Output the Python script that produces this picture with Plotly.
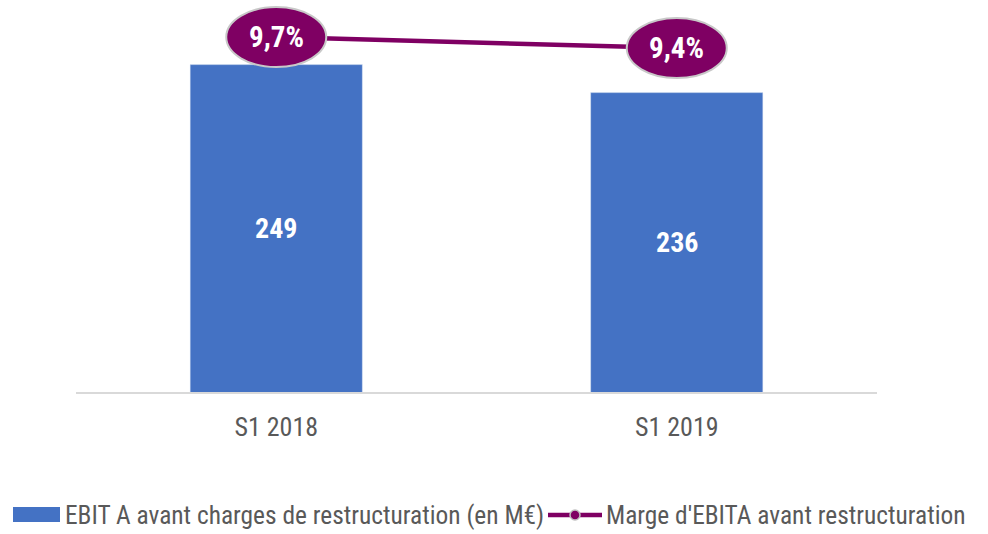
import plotly.graph_objects as go

categories = ["S1 2018", "S1 2019"]
ebita = [249, 236]
marge = [9.7, 9.4]
bar_name = "EBIT A avant charges de restructuration (en M€)"
line_name = "Marge d'EBITA avant restructuration"

BLUE = "#4472C4"
PURPLE = "#7F0063"
GREY_TXT = "#595959"
FONT = "Roboto Condensed, Liberation Sans Narrow, Arial Narrow, sans-serif"

Y_MIN, Y_MAX = 97, 279
Y2_MIN, Y2_MAX = 0.03, 10.71

# plot-area geometry in pixels (used for the hand-built legend)
W, H = 988, 534
ML, MR, MT, MB = 76, 111, 0, 142
PW, PH = W - ML - MR, H - MT - MB


def px_x(p):
    return (p - ML) / PW


def px_y(p):
    return (H - MB - p) / PH


fig = go.Figure()
fig.add_trace(go.Bar(
    x=categories, y=ebita, name=bar_name, marker_color=BLUE, width=0.43,
    showlegend=False, hoverinfo="skip",
))
fig.add_trace(go.Scatter(
    x=categories, y=marge, name=line_name, yaxis="y2", mode="lines+markers",
    line=dict(color=PURPLE, width=4.5),
    marker=dict(color=PURPLE, size=9, line=dict(color="#BFBFBF", width=1.5)),
    showlegend=False, hoverinfo="skip",
))

# value labels inside bars (centred in the visible part of the bar)
for c, v in zip(categories, ebita):
    fig.add_annotation(x=c, y=(Y_MIN + v) / 2, xref="x", yref="y", text=str(v),
                       showarrow=False,
                       font=dict(color="white", size=28, family=FONT, weight="bold"))

# ellipse labels on the margin line
for i, v in enumerate(marge):
    fig.add_shape(type="circle", xref="x", yref="y2",
                  xsizemode="pixel", ysizemode="pixel",
                  xanchor=i, yanchor=v, x0=-50, x1=50, y0=-30, y1=30,
                  fillcolor=PURPLE, line=dict(color="#C8C8C8", width=2), layer="above")
    fig.add_annotation(x=i, y=v, xref="x", yref="y2",
                       text=f"{v:.1f}".replace(".", ",") + "%", showarrow=False,
                       font=dict(color="white", size=29, family=FONT, weight="bold"))

# legend (hand-built to match the wide swatches)
LY = 515
LEG_SIZE = 25.4
fig.add_shape(type="rect", xref="paper", yref="paper",
              x0=px_x(13), x1=px_x(60), y0=px_y(522), y1=px_y(507),
              fillcolor=BLUE, line=dict(width=0))
fig.add_annotation(xref="paper", yref="paper", x=px_x(63), y=px_y(LY),
                   xanchor="left", yanchor="middle", showarrow=False, text=bar_name,
                   font=dict(size=LEG_SIZE, color=GREY_TXT, family=FONT))
fig.add_shape(type="line", xref="paper", yref="paper",
              x0=px_x(548), x1=px_x(602), y0=px_y(LY), y1=px_y(LY),
              line=dict(color=PURPLE, width=4.5))
fig.add_shape(type="circle", xref="paper", yref="paper",
              x0=px_x(570), x1=px_x(580), y0=px_y(LY + 5), y1=px_y(LY - 5),
              fillcolor=PURPLE, line=dict(color="#BFBFBF", width=1.5))
fig.add_annotation(xref="paper", yref="paper", x=px_x(604), y=px_y(LY),
                   xanchor="left", yanchor="middle", showarrow=False, text=line_name,
                   font=dict(size=LEG_SIZE, color=GREY_TXT, family=FONT))

fig.update_layout(
    width=W, height=H, plot_bgcolor="white", paper_bgcolor="white",
    margin=dict(l=ML, r=MR, t=MT, b=MB, autoexpand=False),
    showlegend=False, hovermode=False,
    xaxis=dict(showline=True, linecolor="#D9D9D9", linewidth=2, ticks="",
               ticklabelstandoff=11, fixedrange=True,
               tickfont=dict(size=26, color=GREY_TXT, family=FONT)),
    yaxis=dict(range=[Y_MIN, Y_MAX], visible=False, showgrid=False, fixedrange=True),
    yaxis2=dict(range=[Y2_MIN, Y2_MAX], overlaying="y", visible=False, showgrid=False,
                fixedrange=True),
    bargap=0.57,
)

fig.write_html(
    "out.html",
    config={"displayModeBar": False, "staticPlot": True},
    post_script="document.body.style.margin='0';document.body.style.overflow='hidden';",
)
